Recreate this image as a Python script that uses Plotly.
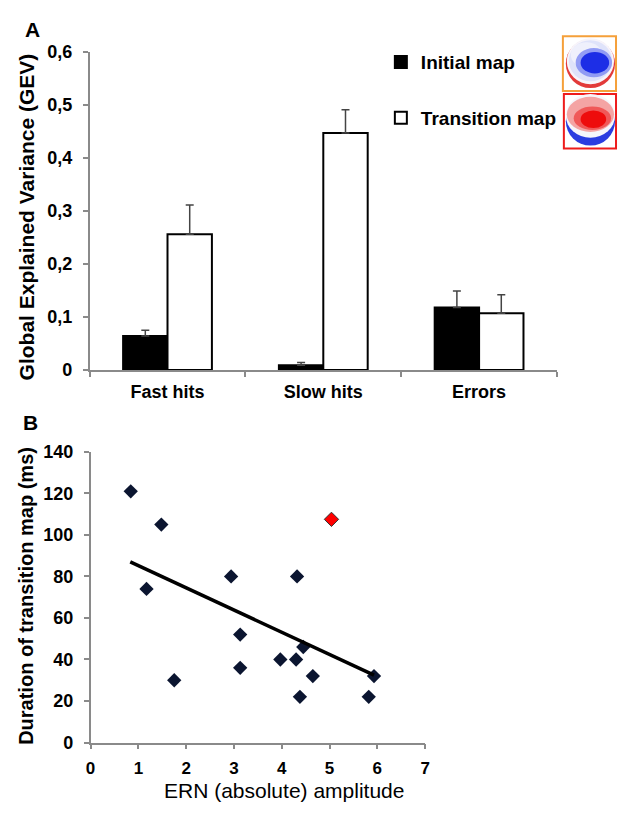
import plotly.graph_objects as go

# ---------------- data ----------------
categories = ["Fast hits", "Slow hits", "Errors"]
initial_gev = [0.064, 0.009, 0.118]
initial_err = [0.011, 0.005, 0.031]
transition_gev = [0.256, 0.447, 0.107]
transition_err = [0.055, 0.044, 0.035]

ern_amp = [0.84, 1.17, 1.48, 1.75, 2.94, 3.13, 3.13, 3.97, 4.30, 4.32, 4.38, 4.45, 4.65, 5.82, 5.93]
duration_ms = [121, 74, 105, 30, 80, 52, 36, 40, 40, 80, 22, 46, 32, 22, 32]
outlier_amp = [5.04]
outlier_ms = [107.5]
trend_amp = [0.83, 5.93]
trend_ms = [87, 32.5]

W, H = 622, 813
FONT = "Liberation Sans, Arial, sans-serif"


def px(x):
    return x / W


def py(y):
    return 1 - y / H


fig = go.Figure()

# ---------------- panel A: bars ----------------
fig.add_trace(go.Bar(
    x=categories, y=initial_gev, name="Initial map",
    marker=dict(color="black", line=dict(color="black", width=2)),
    error_y=dict(type="data", array=initial_err, arrayminus=[0] * 3, symmetric=False,
                 color="#444", thickness=1.5, width=4),
    xaxis="x", yaxis="y", legendgroup="g1",
))
fig.add_trace(go.Bar(
    x=categories, y=transition_gev, name="Transition map",
    marker=dict(color="white", line=dict(color="black", width=2)),
    error_y=dict(type="data", array=transition_err, arrayminus=[0] * 3, symmetric=False,
                 color="#444", thickness=1.5, width=4),
    xaxis="x", yaxis="y", legendgroup="g2",
))

# ---------------- panel B: scatter ----------------
fig.add_trace(go.Scatter(
    x=ern_amp, y=duration_ms, mode="markers", showlegend=False,
    marker=dict(symbol="diamond", size=11, color="#0b1530", line=dict(width=0)),
    xaxis="x2", yaxis="y2",
))
fig.add_trace(go.Scatter(
    x=outlier_amp, y=outlier_ms, mode="markers", showlegend=False,
    marker=dict(symbol="diamond", size=11, color="#ff0000", line=dict(width=1, color="#333")),
    xaxis="x2", yaxis="y2",
))
fig.add_trace(go.Scatter(
    x=trend_amp, y=trend_ms, mode="lines", showlegend=False,
    line=dict(color="black", width=3.5),
    xaxis="x2", yaxis="y2",
))

axis_common = dict(
    showline=True, linecolor="#8a8a8a", linewidth=1.5, ticks="outside",
    ticklen=5, tickcolor="#8a8a8a", tickwidth=1.5, showgrid=False, zeroline=False,
    tickfont=dict(family=FONT, size=18, color="black", weight="bold"),
)

fig.update_layout(
    width=W, height=H, margin=dict(l=0, r=0, t=0, b=0),
    paper_bgcolor="white", plot_bgcolor="white",
    separators=",.",
    barmode="group", bargap=0.43, bargroupgap=0,
    font=dict(family=FONT, color="black"),
    xaxis=dict(axis_common, domain=[px(86), px(561)], anchor="y",
               tickson="boundaries", ticklabelstandoff=5),
    yaxis=dict(axis_common, domain=[py(369), py(43)], anchor="x",
               range=[0, 0.6], dtick=0.1, ticklabelstandoff=7),
    xaxis2=dict(axis_common, domain=[px(87), px(427)], anchor="y2",
                range=[0, 7], dtick=1, ticklabelstandoff=4,
                tickfont=dict(family=FONT, size=17, color="black", weight="bold")),
    yaxis2=dict(axis_common, domain=[py(751), py(453)], anchor="x2",
                range=[0, 140], dtick=20, ticklabelstandoff=7),
    showlegend=True,
    legend=dict(x=px(382), y=py(34), xanchor="left", yanchor="top",
                font=dict(family=FONT, size=19, color="black", weight="bold"),
                tracegroupgap=28, bgcolor="rgba(0,0,0,0)"),
)

annotations = [
    dict(text="<b>A</b>", x=px(28), y=py(20), font=dict(size=21)),
    dict(text="<b>B</b>", x=px(26), y=py(423), font=dict(size=21)),
    dict(text="<b>Global Explained Variance (GEV)</b>", x=px(22), y=py(212),
         textangle=-90, font=dict(size=21)),
    dict(text="<b>Duration of transition map (ms)</b>", x=px(22), y=py(601),
         textangle=-90, font=dict(size=20)),
    dict(text="ERN (absolute) amplitude", x=px(284), y=py(813), yanchor="bottom",
         font=dict(size=21)),
]
for a in annotations:
    a.setdefault("yanchor", "middle")
    a.update(xref="paper", yref="paper", showarrow=False, xanchor="center", borderpad=0)
    a["font"].update(family=FONT, color="black")
fig.update_layout(annotations=annotations)

# ---------------- topographic map insets (decoration) ----------------
shapes = []


def rect(x0, y0, x1, y1, **kw):
    shapes.append(dict(type="rect", xref="paper", yref="paper",
                       x0=px(x0), x1=px(x1), y0=py(y1), y1=py(y0), **kw))


def circ(x0, y0, x1, y1, fill, opacity=1):
    shapes.append(dict(type="circle", xref="paper", yref="paper",
                       x0=px(x0), x1=px(x1), y0=py(y1), y1=py(y0),
                       fillcolor=fill, line=dict(width=0), opacity=opacity))


# orange framed map
rect(567, 27, 621, 83, fillcolor="white", line=dict(color="#f5a03a", width=2))
circ(570, 30, 620, 80, "#e23a3a")
circ(571, 29, 619, 76, "#f7f4fa")
circ(573, 31, 617, 73, "#dfe3fa")
circ(575, 33, 607, 59, "#f2f2fc", 0.8)
circ(580, 39, 617, 69, "#7c88f2", 0.8)
circ(585, 43, 614, 65, "#1d2ee6")

# red framed map
rect(568, 86, 621, 142, fillcolor="white", line=dict(color="#ee1c1c", width=2))
circ(570, 89, 620, 139, "#2b3de0")
circ(570, 86, 620, 131, "#f6f6fb")
circ(571, 89, 619, 125, "#f4a4a4")
circ(578, 99, 616, 123, "#f05050", 0.9)
circ(585, 103, 611, 121, "#ee0c0c")

fig.update_layout(shapes=shapes)

fig.write_html("out.html")
